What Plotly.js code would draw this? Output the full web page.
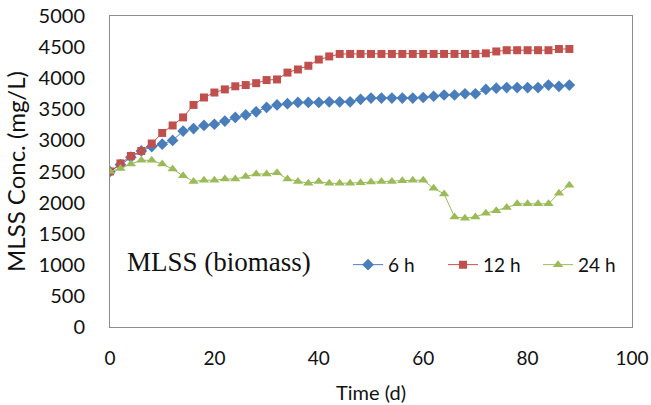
<!DOCTYPE html>
<html>
<head>
<meta charset="utf-8">
<script src="https://cdn.plot.ly/plotly-3.0.1.min.js"></script>
<style>html,body{margin:0;padding:0;background:#fff;}#chart{width:651px;height:405px;}</style>
</head>
<body>
<div id="chart"></div>
<script>
var days = [0,2,4,6,8,10,12,14,16,18,20,22,24,26,28,30,32,34,36,38,40,42,44,46,48,50,52,54,56,58,60,62,64,66,68,70,72,74,76,78,80,82,84,86,88];
var mlss6h = [2500,2610,2730,2830,2900,2940,3000,3150,3190,3240,3260,3310,3370,3410,3460,3530,3570,3590,3610,3610,3610,3620,3620,3620,3660,3680,3680,3680,3680,3680,3690,3710,3730,3730,3750,3750,3820,3840,3850,3850,3850,3850,3890,3870,3890];
var mlss12h = [2500,2630,2750,2830,2950,3120,3240,3370,3570,3690,3770,3820,3870,3890,3920,3970,3980,4090,4140,4200,4300,4350,4390,4390,4390,4390,4390,4390,4390,4390,4390,4390,4390,4390,4390,4390,4400,4430,4450,4450,4450,4450,4450,4470,4470];
var mlss24h = [2500,2550,2620,2680,2680,2620,2540,2430,2340,2360,2360,2380,2380,2420,2460,2460,2480,2380,2340,2310,2340,2310,2310,2310,2320,2330,2340,2340,2350,2360,2360,2230,2140,1770,1750,1770,1830,1870,1920,1980,1980,1980,1980,2150,2280];
var seriesNames = ['6 h','12 h','24 h'];
var xTicks = [0,20,40,60,80,100];
var yTicks = [0,500,1000,1500,2000,2500,3000,3500,4000,4500,5000];

var traces = [
  {x: days, y: mlss6h, name: seriesNames[0], mode: 'lines+markers',
   line: {color: '#4A7EBB', width: 1}, marker: {symbol: 'diamond', size: 9, color: '#4A7EBB'}},
  {x: days, y: mlss12h, name: seriesNames[1], mode: 'lines+markers',
   line: {color: '#C0504D', width: 1}, marker: {symbol: 'square', size: 8, color: '#C0504D'}},
  {x: days, y: mlss24h, name: seriesNames[2], mode: 'lines+markers',
   line: {color: '#9BBB59', width: 1}, marker: {symbol: 'triangle-up', size: 9, color: '#9BBB59'}}
];

var layout = {
  width: 651, height: 405,
  margin: {l: 110, r: 19, t: 16, b: 78},
  paper_bgcolor: '#fff', plot_bgcolor: '#fff',
  font: {family: 'Lato, sans-serif', color: '#111'},
  showlegend: true,
  legend: {orientation: 'h', x: 0.456, xanchor: 'left', y: 0.2, yanchor: 'middle',
           font: {family: 'Lato, sans-serif', size: 19, color: '#111'},
           entrywidth: 50, bgcolor: 'rgba(0,0,0,0)'},
  xaxis: {range: [0, 100], tickvals: xTicks, ticktext: xTicks.map(String),
          showgrid: false, zeroline: false, showline: true, mirror: true,
          linecolor: '#8c8c8c', linewidth: 1, ticks: '', ticklabelstandoff: 14,
          tickfont: {family: 'Lato, sans-serif', size: 19, color: '#111'},
          title: {text: 'Time (d)', font: {family: 'Lato, sans-serif', size: 20, color: '#111'}, standoff: 18}},
  yaxis: {range: [0, 5000], tickvals: yTicks, ticktext: yTicks.map(String),
          showgrid: false, zeroline: false, showline: true, mirror: true,
          linecolor: '#8c8c8c', linewidth: 1, ticks: '', ticklabelstandoff: 20,
          tickfont: {family: 'Lato, sans-serif', size: 20, color: '#111'},
          title: {text: 'MLSS Conc. (mg/L)', font: {family: 'Lato, sans-serif', size: 24, color: '#111'}, standoff: 6}},
  annotations: [{text: 'MLSS (biomass)', xref: 'paper', yref: 'paper', x: 0.028, y: 0.209,
                 xanchor: 'left', yanchor: 'middle', showarrow: false,
                 font: {family: 'Liberation Serif, Times New Roman, serif', size: 27, color: '#111'}}]
};

Plotly.newPlot('chart', traces, layout, {displayModeBar: false, staticPlot: true});
</script>
</body>
</html>
